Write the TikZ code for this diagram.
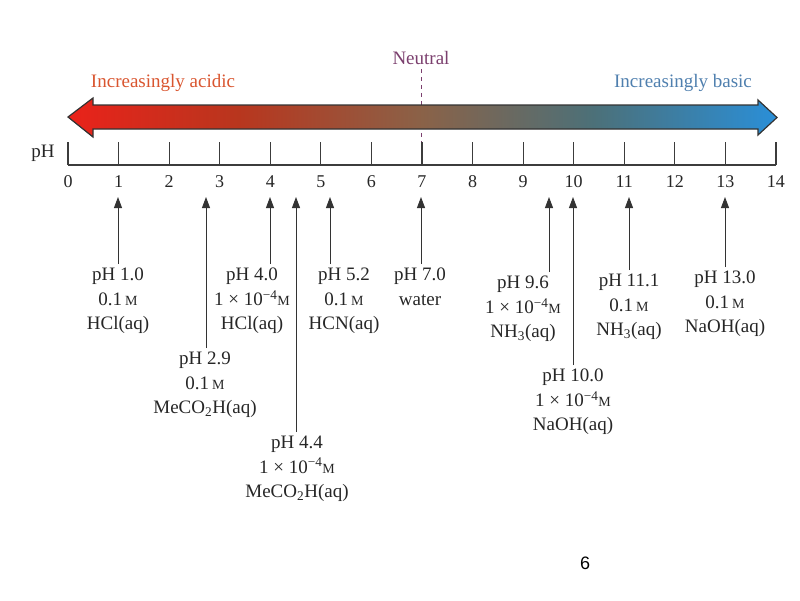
\documentclass[tikz,border=0pt]{standalone}
\usepackage{fontspec}
\setmainfont{Liberation Serif}
\newfontfamily\pagefont{Liberation Sans}
\usetikzlibrary{arrows.meta}
\definecolor{acidc}{HTML}{D9552F}
\definecolor{basec}{HTML}{4F7FAE}
\definecolor{neutc}{HTML}{7B3F6E}
\definecolor{redl}{HTML}{EA221A}
\definecolor{redm}{HTML}{B8361E}
\definecolor{midc}{HTML}{8A6248}
\definecolor{tealm}{HTML}{4C7078}
\definecolor{bluer}{HTML}{2A8FD8}
\definecolor{axisc}{HTML}{3C3C3C}
\pgfdeclarehorizontalshading{phshade}{100bp}{color(0bp)=(redl); color(25bp)=(redl); color(37bp)=(redm); color(50bp)=(midc); color(62bp)=(tealm); color(75bp)=(bluer); color(100bp)=(bluer)}
\newcommand\Mol{{\fontsize{14}{14}\selectfont M}}
\begin{document}
\begin{tikzpicture}[x=1pt,y=-1pt,
  lbl/.style={align=center,font=\fontsize{19}{24.5}\selectfont,inner sep=0pt,anchor=north,text=black!85},
  ptr/.style={-{Triangle[length=11pt,width=8pt]},line width=0.9pt,black!80,shorten <=4pt},
  axisline/.style={line width=1.2pt,axisc},
  num/.style={font=\fontsize{18}{18}\selectfont,inner sep=0pt,text=black!85},
  head/.style={font=\fontsize{19}{19}\selectfont,inner sep=0pt}]
\useasboundingbox (0,0) rectangle (800,600);
% neutral marker
\node[head,text=neutc] (neutral) at (421,58) {Neutral};
\coordinate (nb) at (421,142);
\draw[neutc,line width=0.9pt,dash pattern=on 4pt off 4pt] (neutral.south) ++(0,4) -- (nb);
% big arrow
\path[shading=phshade]
  (68,117) -- (93,98) -- (93,105) -- (758,105) -- (758,100) -- (777,117.5)
  -- (758,135) -- (758,129) -- (93,129) -- (93,137) -- cycle;
\draw[line width=1.2pt,black!80]
  (68,117) -- (93,98) -- (93,105) -- (758,105) -- (758,100) -- (777,117.5)
  -- (758,135) -- (758,129) -- (93,129) -- (93,137) -- cycle;
\node[head,text=acidc] (acid) at (163,83) {Increasingly acidic};
\node[head,text=basec] (basic) at (683,83) {Increasingly basic};
% axis
\node[head,text=black!85] (phlab) at (43,153) {pH};
\draw[axisline] (68,165) -- (776,165);
\foreach \i in {0,...,14}{
  \draw[axisline] (68+50.57*\i,142) -- (68+50.57*\i,165);
  \node[num] (n\i) at (68+50.57*\i,182) {\i};
}
% labels
\node[lbl] (l1) at (118,268) {pH 1.0\\0.1\,\Mol\\HCl(aq)};
\node[lbl] (l2) at (205,352) {pH 2.9\\0.1\,\Mol\\MeCO\textsubscript{2}H(aq)};
\node[lbl] (l3) at (252,268) {pH 4.0\\1 × 10\textsuperscript{−4}\Mol\\HCl(aq)};
\node[lbl] (l4) at (297,436) {pH 4.4\\1 × 10\textsuperscript{−4}\Mol\\MeCO\textsubscript{2}H(aq)};
\node[lbl] (l5) at (344,268) {pH 5.2\\0.1\,\Mol\\HCN(aq)};
\node[lbl] (l6) at (420,268) {pH 7.0\\water};
\node[lbl] (l7) at (523,276) {pH 9.6\\1 × 10\textsuperscript{−4}\Mol\\NH\textsubscript{3}(aq)};
\node[lbl] (l8) at (573,369) {pH 10.0\\1 × 10\textsuperscript{−4}\Mol\\NaOH(aq)};
\node[lbl] (l9) at (629,274) {pH 11.1\\0.1\,\Mol\\NH\textsubscript{3}(aq)};
\node[lbl] (l10) at (725,271) {pH 13.0\\0.1\,\Mol\\NaOH(aq)};
% arrow tips
\coordinate (t1) at (118,197);
\coordinate (t2) at (206,197);
\coordinate (t3) at (270,197);
\coordinate (t4) at (296,197);
\coordinate (t5) at (330,197);
\coordinate (t6) at (421,197);
\coordinate (t7) at (549,197);
\coordinate (t8) at (573,197);
\coordinate (t9) at (629,197);
\coordinate (t10) at (725,197);
\foreach \k in {1,...,10}{
  \draw[ptr] (l\k.north -| t\k) -- (t\k);
}
\node[font=\pagefont\fontsize{18}{18}\selectfont,inner sep=0pt] (pagenum) at (585,563) {6};
\end{tikzpicture}
\end{document}
